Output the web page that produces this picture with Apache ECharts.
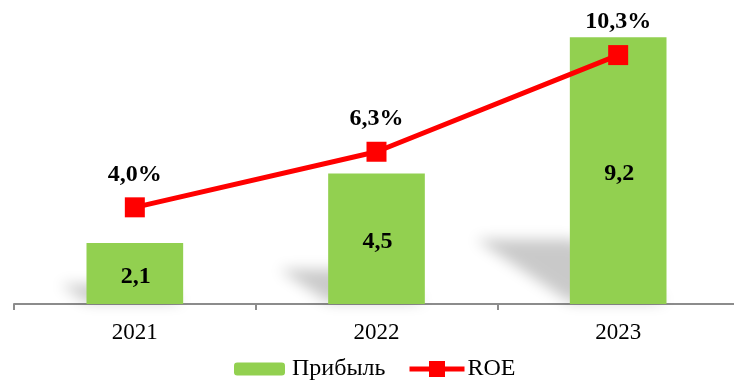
<!DOCTYPE html>
<html>
<head>
<meta charset="utf-8">
<script src="https://cdn.jsdelivr.net/npm/echarts@6/dist/echarts.min.js"></script>
<style>
  html, body { margin: 0; padding: 0; background: #fff; }
  #chart { width: 734px; height: 381px; }
</style>
</head>
<body>
<div id="chart"></div>
<script>
// Годы, прибыль (млрд) и рентабельность капитала (%)
const years = ['2021', '2022', '2023'];
const profit = [2.1, 4.5, 9.2];
const roe = [4.0, 6.3, 10.3];

const SERIF = "'Liberation Serif', 'Times New Roman', serif";
const fmt = v => v.toFixed(1).replace('.', ',');

const chart = echarts.init(document.getElementById('chart'), null, { renderer: 'canvas' });

// Мягкая «перспективная» тень, падающая от каждого столбца влево-вверх
function renderShadow(params, api) {
  const idx = api.value(0);
  const base = api.coord([idx, 0]);
  const H = api.size([0, api.value(1)])[1];
  const bw = api.size([1, 0])[0] * 0.4;
  const x0 = base[0] - bw / 2;
  const x1 = base[0] + bw / 2;
  const y = base[1];
  const h = 0.22 * H + 6;
  const s = 0.33 * H + 6;
  const OFF = 3000; // контур уводится за холст, видна только размытая тень
  return {
    type: 'polygon',
    shape: {
      points: [
        [x0 - OFF, y - 2],
        [x1 - OFF, y - 2],
        [x1 - s - OFF, y - h],
        [x0 - s - OFF, y - h]
      ]
    },
    style: {
      fill: '#000',
      shadowColor: 'rgba(0,0,0,0.21)',
      shadowBlur: 14,
      shadowOffsetX: OFF,
      shadowOffsetY: 0
    }
  };
}

const legendText = { fontFamily: SERIF, fontSize: 24, color: '#000' };

chart.setOption({
  animation: false,
  grid: { left: 14, top: 14, width: 725, height: 290, outerBoundsMode: 'none', containLabel: false },
  legend: [
    {
      data: ['Прибыль'],
      left: 229,
      top: 352,
      itemWidth: 51,
      itemHeight: 13,
      textStyle: Object.assign({ padding: [0, 0, 0, 2] }, legendText)
    },
    {
      data: ['ROE'],
      left: 402,
      top: 352,
      itemWidth: 55,
      itemHeight: 20,
      lineStyle: { width: 5 },
      textStyle: Object.assign({ padding: [0, 0, 0, -2] }, legendText)
    }
  ],
  xAxis: {
    type: 'category',
    data: years,
    boundaryGap: true,
    axisLine: { lineStyle: { color: '#8c8c8c', width: 2 } },
    axisTick: { show: true, length: 6, lineStyle: { color: '#8c8c8c', width: 2 } },
    axisLabel: { fontFamily: SERIF, fontSize: 23, color: '#000', margin: 17 }
  },
  yAxis: [
    { type: 'value', min: 0, max: 10, show: false, splitLine: { show: false } },
    { type: 'value', min: 0, max: 12, show: false, splitLine: { show: false } }
  ],
  series: [
    {
      type: 'custom',
      silent: true,
      z: 1,
      renderItem: renderShadow,
      data: profit.map((v, i) => [i, v])
    },
    {
      name: 'Прибыль',
      type: 'bar',
      z: 2,
      barWidth: '40%',
      data: profit,
      itemStyle: { color: '#92D050' },
      label: {
        show: true,
        position: 'inside',
        offset: [1, 3],
        formatter: p => fmt(p.value),
        fontFamily: SERIF,
        fontSize: 24,
        fontWeight: 'bold',
        color: '#000'
      }
    },
    {
      name: 'ROE',
      type: 'line',
      z: 3,
      yAxisIndex: 1,
      data: roe,
      symbol: 'rect',
      symbolSize: 20,
      lineStyle: { color: '#FF0000', width: 5 },
      itemStyle: { color: '#FF0000' },
      label: {
        show: true,
        position: 'top',
        distance: 11,
        formatter: p => fmt(p.value) + '%',
        fontFamily: SERIF,
        fontSize: 24,
        fontWeight: 'bold',
        color: '#000'
      }
    }
  ]
});
</script>
</body>
</html>
